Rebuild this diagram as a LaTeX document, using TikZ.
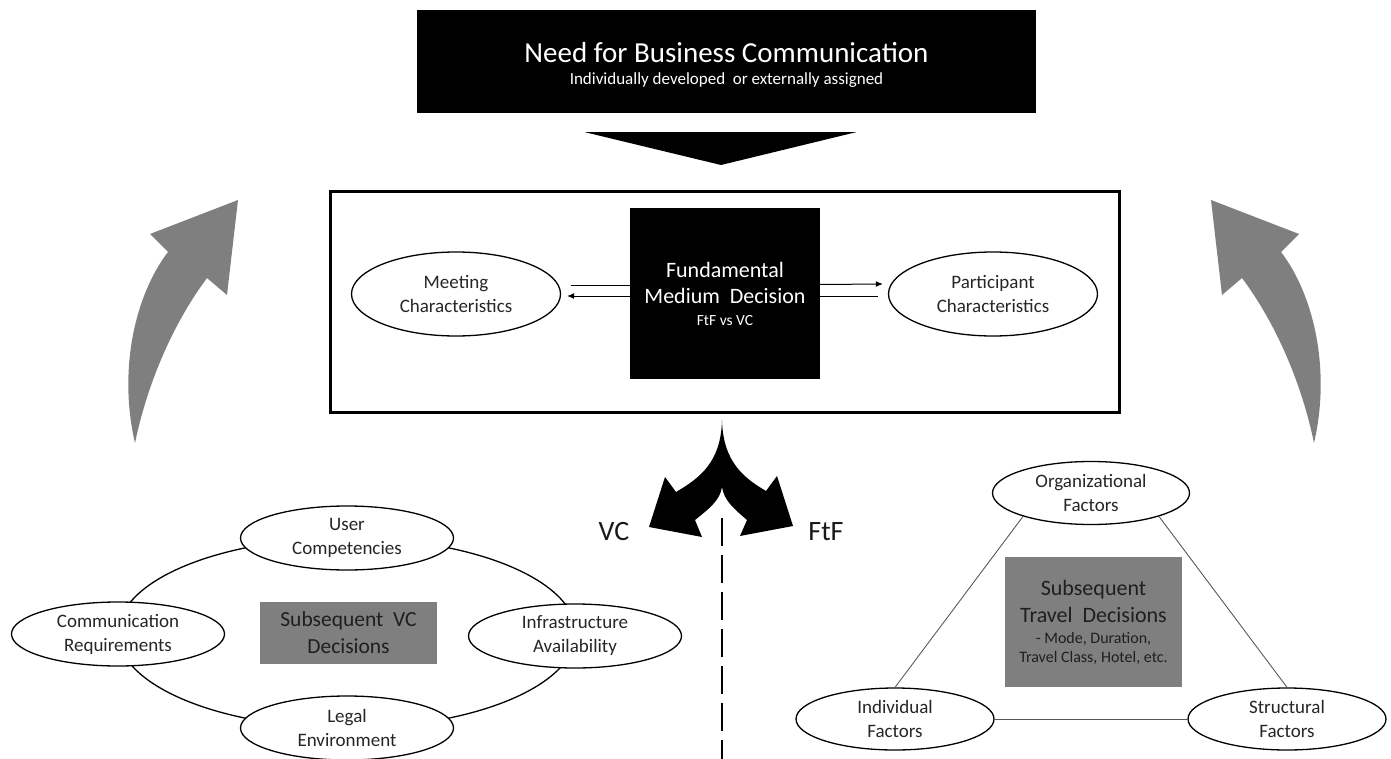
\documentclass[tikz,border=0pt]{standalone}
\usepackage{fontspec}
\setmainfont{Carlito}
\usetikzlibrary{arrows.meta,shapes.geometric,calc}
\definecolor{grayarrow}{HTML}{7F7F7F}
\definecolor{graybox}{HTML}{7F7F7F}
\definecolor{darktext}{HTML}{262626}
\newcommand{\fsz}[2]{\fontsize{#1}{#2}\selectfont}
\begin{document}
\begin{tikzpicture}[x=1pt,y=-1pt,
  ell/.style={ellipse,draw=black,line width=1.3pt,fill=white,inner sep=0pt,align=center,text=darktext,font=\fsz{19}{24}},
  blackbox/.style={fill=black,text=white,align=center,inner sep=0pt},
  gbox/.style={fill=graybox,text=black!88,align=center,inner sep=0pt},
  conn/.style={line width=1pt,draw=black},
  tri/.style={line width=0.9pt,draw=black!65},
  tip/.style={-{Latex[length=7pt,width=6pt]}},
  branch/.style={font=\fsz{28}{30},text=black!90}
]
\useasboundingbox (0,0) rectangle (1391,759);

% top box
\node[blackbox,minimum width=619pt,minimum height=103pt,font=\fsz{17}{22.5}] (need) at (726.5,61.5)
  {\rule{0pt}{27pt}{\fsz{29}{34}Need for Business Communication}\\Individually developed\ \ or externally assigned};
\fill[black] (need.south) ++(-141.5,19) -- ++(271,0) -- (721,165) -- cycle;

% main frame
\node[draw=black,line width=3pt,minimum width=789pt,minimum height=220pt,inner sep=0pt] (frame) at (724.5,302) {};

% center square
\node[blackbox,minimum width=190pt,minimum height=171pt,font=\fsz{22}{26}] (fmd) at (725,293.5)
  {Fundamental\\Medium\ \ Decision\\[-4pt]{\fsz{15.5}{20}FtF vs VC}};

\node[ell,minimum width=209pt,minimum height=84pt] (meet) at (456,294) {Meeting\\Characteristics};
\node[ell,minimum width=209pt,minimum height=84pt] (part) at (993,294) {Participant\\Characteristics};

\draw[conn] ([yshift=8.5pt]fmd.west) -- ([xshift=10pt,yshift=9pt]meet.east);
\draw[conn,tip] ([yshift=-2.5pt]fmd.west) -- ([xshift=6pt,yshift=-2pt]meet.east);
\draw[conn,tip] ([yshift=9pt]fmd.east) -- ([xshift=-5pt,yshift=10pt]part.west);
\draw[conn] ([yshift=-2.5pt]fmd.east) -- ([xshift=-10pt,yshift=-2pt]part.west);

% gray curved arrows
\fill[grayarrow] (135,443) .. controls (118,370) and (135,295) .. (168,252)
  -- (150,234) -- (238,200) -- (227,295) -- (207,278)
  .. controls (172,325) and (147,385) .. cycle;
\fill[grayarrow] (1314,443) .. controls (1331,370) and (1314,295) .. (1281,252)
  -- (1299,234) -- (1211,200) -- (1222,295) -- (1242,278)
  .. controls (1277,325) and (1302,385) .. cycle;

% split arrow
\fill[black] (722,420) .. controls (721,462) and (700,478) .. (676,492)
  -- (665,477) -- (649,527) -- (702,537) -- (695,520)
  .. controls (710,508) and (720,500) .. (722,487)
  .. controls (724,500) and (733,508) .. (747,520)
  -- (740,536) -- (793,526) -- (777,476) -- (766,491)
  .. controls (744,478) and (723,462) .. cycle;

\coordinate (dtop) at (722,518);
\coordinate (dbot) at (722,759);
\draw[line width=2pt,dash pattern=on 28pt off 9pt] (dtop) -- (dbot);

\node[branch] (vc) at (614,532) {VC};
\node[branch] (ftf) at (826,532) {FtF};

% VC side
\node[draw=black,line width=1.3pt,ellipse,minimum width=458pt,minimum height=190pt,inner sep=0pt] (ring) at (347,633) {};
\node[gbox,minimum width=177pt,minimum height=62pt,font=\fsz{21.5}{27}] (svc) at (348.5,633) {Subsequent\ \ VC\\Decisions};
\node[ell,minimum width=213pt,minimum height=64pt] (uc) at (347,538) {User\\Competencies};
\node[ell,minimum width=213pt,minimum height=64pt] (cr) at (118,634) {Communication\\Requirements};
\node[ell,minimum width=213pt,minimum height=64pt] (le) at (347,728) {Legal\\Environment};
\node[ell,minimum width=213pt,minimum height=64pt] (ia) at (575,636) {Infrastructure\\Availability};

% FtF side
\node[ell,minimum width=197pt,minimum height=63pt] (org) at (1091,493) {Organizational\\Factors};
\node[ell,minimum width=198pt,minimum height=62pt] (ind) at (895,719) {Individual\\Factors};
\node[ell,minimum width=198pt,minimum height=62pt] (str) at (1287,719) {Structural\\Factors};
\draw[tri] (org.199) -- (ind.north);
\draw[tri] (org.341) -- (str.north);
\draw[tri] (ind) -- (str);
\node[gbox,minimum width=177pt,minimum height=130pt,font=\fsz{22}{27}] (std) at (1093.5,622)
  {Subsequent\\Travel\ \ Decisions\\[-6pt]{\fsz{16}{20}- Mode, Duration,}\\[-8pt]{\fsz{16}{20}Travel Class, Hotel, etc.}};
\end{tikzpicture}
\end{document}
